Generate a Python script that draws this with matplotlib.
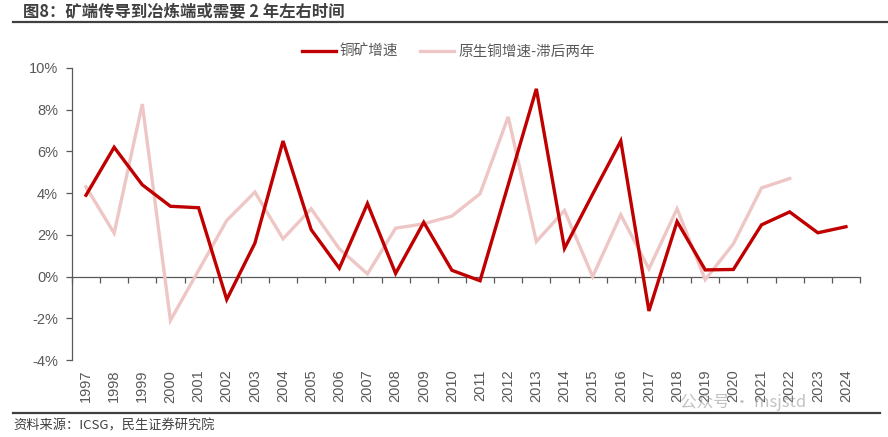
import numpy as np
import matplotlib
matplotlib.use("Agg")
import matplotlib.pyplot as plt
from matplotlib.lines import Line2D

plt.rcParams.update({
    "font.family": ["Liberation Sans", "Noto Sans CJK SC", "DejaVu Sans"],
    "axes.linewidth": 0.9,
})

# ---- data ----
years = [str(y) for y in range(1997, 2025)]
ore_growth = [3.9, 6.2, 4.4, 3.37, 3.3, -1.1, 1.6, 6.5, 2.25, 0.4,
              3.5, 0.15, 2.6, 0.3, -0.2, 4.4, 9.0, 1.35, 3.95, 6.5,
              -1.65, 2.64, 0.32, 0.34, 2.48, 3.1, 2.1, 2.39]
refined_lag2 = [4.3, 2.08, 8.27, -2.1, 0.3, 2.69, 4.05, 1.81, 3.25, 1.33,
                0.13, 2.32, 2.53, 2.9, 3.97, 7.66, 1.68, 3.17, 0.0, 2.96,
                0.37, 3.25, -0.15, 1.57, 4.25, 4.7]
y_ticks = [-4, -2, 0, 2, 4, 6, 8, 10]

title = "图8：矿端传导到冶炼端或需要 2 年左右时间"
source = "资料来源：ICSG，民生证券研究院"
label_ore = "铜矿增速"
label_ref = "原生铜增速-滞后两年"

RED = "#C00000"
PINK = "#EEC6C5"
GRAY = "#595959"
CJK = ["Noto Sans CJK SC", "DejaVu Sans"]

fig = plt.figure(figsize=(8.88, 4.37), dpi=100)
ax = fig.add_axes([0.081, 0.1762, 0.8875, 0.6682])

x = np.arange(len(years))
ax.plot(x[:len(refined_lag2)], refined_lag2, color=PINK, lw=2.4,
        solid_joinstyle="miter", label=label_ref, zorder=2)
ax.plot(x, ore_growth, color=RED, lw=2.4, solid_joinstyle="miter",
        label=label_ore, zorder=3)

ax.set_xlim(-0.5, len(years) - 0.5)
ax.set_ylim(-4, 10)
ax.set_yticks(y_ticks)
ax.set_yticklabels([f"{v}%" for v in y_ticks])
ax.tick_params(axis="y", direction="out", length=4, width=0.9,
               color=GRAY, labelcolor=GRAY, labelsize=10.5, pad=6)

ax.set_xticks(x)
ax.set_xticklabels(years, rotation=90)
ax.tick_params(axis="x", length=0, labelcolor=GRAY, labelsize=10.5, pad=7)

for s in ["top", "right", "bottom"]:
    ax.spines[s].set_visible(False)
ax.spines["left"].set_color(GRAY)

# zero line with category boundary ticks
zero_ax = ax.secondary_xaxis(4 / 14)
zero_ax.set_xticks(np.arange(-0.5, len(years), 1.0))
zero_ax.set_xticklabels([])
zero_ax.tick_params(direction="out", length=4, width=0.9, color=GRAY)
zero_ax.spines["bottom"].set_color(GRAY)
zero_ax.spines["bottom"].set_linewidth(0.9)

# legend
handles = [Line2D([], [], color=RED, lw=2.4), Line2D([], [], color=PINK, lw=2.4)]
leg = fig.legend(handles, [label_ore, label_ref], loc="center",
                 bbox_to_anchor=(0.505, 1 - 52 / 437), ncol=2, frameon=False,
                 handlelength=2.3, handletextpad=0.3, columnspacing=1.5,
                 prop={"family": CJK, "size": 10.5})
for t in leg.get_texts():
    t.set_color(GRAY)

# title, rules and source
fig.text(23 / 888, 1 - 12 / 437, title, family=CJK, fontsize=11.8,
         fontweight="bold", color="#404040", va="center", ha="left")
fig.add_artist(Line2D([13 / 888, 1.0], [1 - 22 / 437] * 2, color="#404040",
                      lw=1.6, transform=fig.transFigure))
fig.add_artist(Line2D([13 / 888, 880 / 888], [1 - 413 / 437] * 2, color="#404040",
                      lw=1.6, transform=fig.transFigure))
fig.text(13 / 888, 1 - 426 / 437, source, family=CJK, fontsize=9.5,
         color="#404040", va="center", ha="left")

# watermark
fig.text(680 / 888, 1 - 402 / 437, "公众号 · msjstd", family=CJK, fontsize=12,
         color="#9a9a9a", alpha=0.6, va="center", ha="left")

fig.savefig("out.png", dpi=100)
